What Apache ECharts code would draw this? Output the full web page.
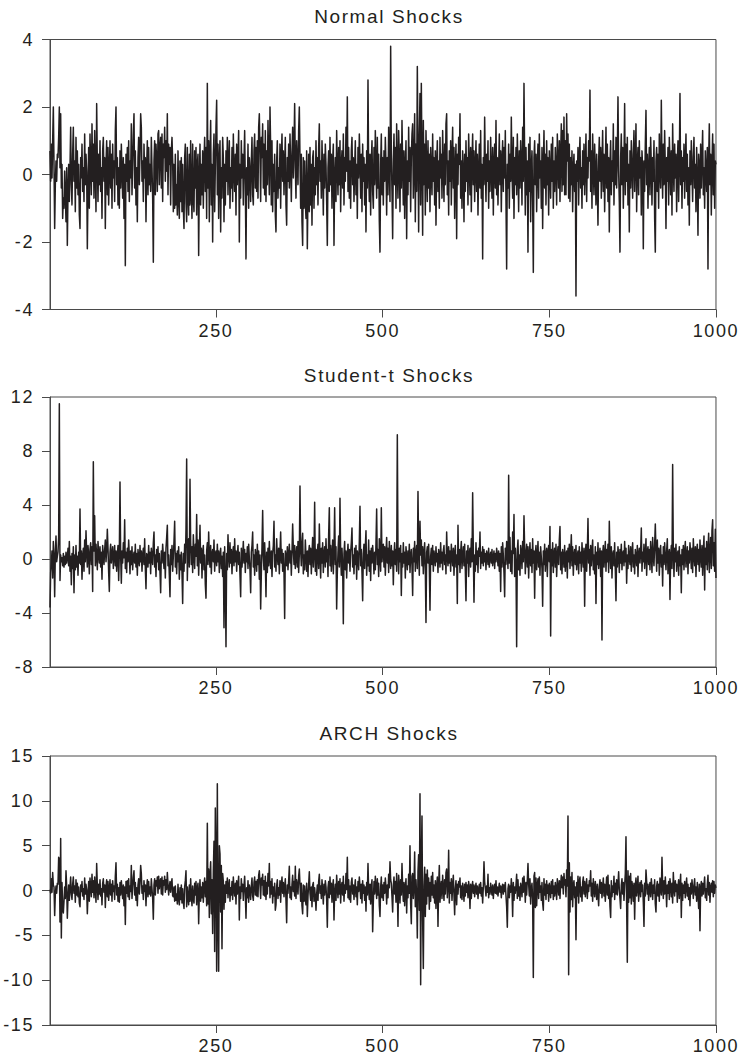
<!DOCTYPE html>
<html>
<head>
<meta charset="utf-8">
<title>Simulated Shocks</title>
<script src="https://cdn.jsdelivr.net/npm/echarts@6/dist/echarts.min.js"></script>
<style>
  html, body { margin: 0; padding: 0; background: #ffffff; }
  #chart { width: 739px; height: 1062px; }
  #chart text { letter-spacing: 1.6px; }
</style>
</head>
<body>
<div id="chart"></div>
<script>
// Simulated shock series, t = 1 .. 1000
const normalShocks = [
0.7,-0.2,0.9,-0.1,1.0,2.0,0.3,-1.6,-0.3,0.4,-0.2,0.6,0.5,1.1,2.0,0.2,1.8,-0.4,0.3,-1.3,-0.7,-1.0,0.1,-0.6,-1.4,0.2,-2.1,-0.5,0.3,-0.8,0.2,1.4,-0.3,-0.9,0.6,1.4,-0.2,0.4,-1.1,1.1,-0.4,0.7,-0.6,0.3,-1.2,-1.6,0.5,-0.1,0.9,-0.5,
0.2,-0.8,1.2,-0.3,0.6,0.1,-2.2,-0.4,0.8,-1.0,1.2,0.3,-0.6,1.5,-0.2,0.9,-0.7,1.3,0.1,-1.1,2.1,0.4,-0.8,0.6,-0.3,1.0,-0.5,0.2,-1.3,0.7,1.1,-0.2,0.5,-1.6,0.3,1.0,-0.6,0.8,-0.9,0.1,1.0,-0.4,0.6,-1.0,0.9,-0.1,0.4,-0.8,1.3,2.0,
-0.3,0.5,-0.9,0.2,-1.0,0.7,-0.4,0.9,0.1,-0.7,0.5,-1.3,0.3,-2.7,0.6,-0.2,0.8,-0.5,1.0,-0.8,0.4,-0.1,1.5,-0.6,0.3,1.2,1.8,-0.4,0.7,-0.9,0.2,-1.4,0.5,1.1,-0.3,0.6,1.8,1.4,-0.2,0.4,-0.8,0.9,-0.1,0.5,-1.4,0.2,1.0,-0.6,0.8,-0.3,
0.3,-0.5,1.1,0.2,-0.7,-2.6,0.4,1.0,-0.6,0.9,0.4,-0.5,1.2,1.3,-0.3,0.8,1.1,-0.4,1.2,-0.8,0.9,0.5,1.4,-0.2,1.0,0.1,1.8,-0.6,0.9,0.3,0.8,-0.9,0.7,1.1,0.4,-1.1,0.3,-1.0,0.6,-0.9,-0.3,-1.2,0.7,-0.7,-1.3,0.4,-0.8,0.5,-1.1,0.3,
-1.0,-1.6,0.5,0.9,-0.8,-1.4,0.8,-0.6,-1.2,0.6,-0.9,1.0,-0.5,-1.3,0.9,-0.7,-1.1,0.7,-0.4,0.8,-1.2,0.3,0.6,-2.4,-0.2,0.9,-0.9,0.3,-0.6,0.7,-1.0,0.4,1.1,-0.5,0.8,-1.3,2.7,-0.4,1.0,-1.4,0.5,1.6,-0.9,0.3,-2.0,0.6,1.2,-1.1,0.2,1.4,
2.2,-0.6,0.9,-1.3,0.4,1.0,-1.7,0.2,-0.7,1.1,0.5,-1.4,0.3,-0.9,0.7,-0.2,1.1,-0.6,0.4,1.0,-1.0,0.2,-0.4,0.8,-0.8,1.2,0.1,-0.5,0.6,-1.2,0.9,-0.3,0.5,1.3,-2.0,0.3,-0.7,1.0,-0.1,0.6,-0.9,0.4,1.3,-0.3,-2.5,0.2,-0.6,0.9,-1.0,0.5,
0.1,-0.8,0.4,1.1,-0.6,-0.9,0.7,1.2,-0.4,0.8,-0.5,1.0,-0.7,1.4,1.8,0.6,-0.8,1.1,0.5,1.5,-0.4,0.9,-0.6,1.3,-0.8,0.7,-0.3,1.6,0.4,-0.6,2.0,0.8,-0.9,1.0,-1.1,0.3,-0.5,0.6,-1.2,-1.7,0.4,1.0,-0.7,0.2,-0.4,0.9,-1.0,0.5,1.2,-0.2,
0.7,-0.6,0.3,1.1,-0.9,-1.5,0.5,-0.2,0.9,-0.4,1.2,0.3,-0.8,0.6,1.4,-0.1,0.8,2.1,0.2,-0.7,1.0,0.4,-0.3,1.3,2.0,0.5,-1.0,0.6,-1.4,-2.1,0.5,-1.0,0.4,-0.8,-1.3,0.7,-2.2,-0.5,0.6,-1.1,0.8,-0.9,0.3,-1.5,0.5,0.7,-1.0,0.2,-0.6,1.0,
-0.3,0.5,-0.9,0.8,1.5,-0.2,0.4,-0.7,1.0,0.1,-1.2,0.6,-0.4,0.9,0.3,-0.8,-2.1,0.2,0.7,-0.5,1.1,-0.3,0.6,-1.0,0.4,0.9,-2.1,-0.1,0.5,-0.8,1.3,0.2,-0.6,0.8,-0.3,1.0,-1.1,0.3,0.7,-0.4,1.2,-0.9,0.5,-0.2,1.4,0.1,2.3,-0.5,0.8,-0.7,
0.4,-1.0,0.7,1.1,-0.3,0.5,-0.8,0.2,1.0,-0.6,0.3,-1.3,0.8,-0.1,1.2,0.4,-0.7,0.6,-1.1,0.9,-0.2,0.5,-0.9,0.3,-1.7,0.7,-0.4,2.8,0.1,-0.8,0.6,-1.2,0.4,1.0,-0.5,-1.0,0.8,-0.3,1.3,0.2,-0.7,1.1,-0.4,0.6,-1.4,-2.3,0.3,1.2,-0.6,0.5,
-0.9,0.7,-0.2,1.1,0.3,-1.2,0.5,-0.6,1.4,0.2,-0.8,3.8,0.6,-0.5,-1.9,0.4,1.2,-0.3,0.8,-1.0,1.5,0.1,-0.7,1.3,0.5,-1.1,0.9,-0.4,1.6,0.3,-0.9,0.7,-1.3,0.2,1.0,-1.9,0.4,-0.6,1.4,-0.2,0.8,-1.1,0.5,1.2,1.5,-0.7,0.3,1.8,-1.4,0.9,
-0.5,3.2,0.7,-1.7,1.1,2.4,-0.9,2.7,0.4,-1.8,1.6,-0.3,0.9,-1.2,1.3,0.2,-0.8,1.0,-0.4,0.6,-1.1,0.8,0.1,-0.6,1.2,-0.2,0.5,-0.9,0.7,-1.5,0.3,1.0,-0.5,0.4,-1.0,1.1,-0.1,0.6,-0.7,1.3,0.2,-0.8,0.9,-0.3,1.5,1.8,-0.6,0.4,-1.2,0.7,
-0.2,1.0,-0.9,0.5,1.4,-0.4,0.8,-1.3,0.2,0.9,-1.9,0.6,-0.3,1.1,0.3,1.8,-0.7,0.4,-1.0,0.7,0.1,-1.4,0.6,-0.5,1.0,-0.2,0.5,-0.9,1.2,0.3,-0.6,0.8,-1.1,0.4,1.2,-0.3,0.7,-0.8,0.2,1.0,-0.5,0.6,-1.2,0.1,0.9,-0.4,1.3,-0.7,0.3,-2.5,
0.5,-0.3,1.7,0.2,-0.8,0.6,-0.2,1.0,-1.0,0.4,-0.5,1.1,0.1,-0.7,0.8,-1.2,0.3,0.9,-0.4,1.6,-0.6,0.5,-0.9,0.2,1.2,-0.3,0.7,-1.1,0.4,1.0,-0.5,0.8,-0.1,1.3,-0.8,-2.8,0.3,-0.4,0.9,-1.0,0.6,-0.2,1.7,0.1,-0.7,1.1,-1.3,0.5,-0.3,0.8,
-0.6,1.2,0.2,-1.1,0.7,-0.4,1.0,0.3,-0.9,1.4,-0.2,2.7,0.5,-1.2,0.8,-0.6,0.4,-2.3,0.9,-0.5,1.1,-1.4,0.2,0.7,-0.8,-2.9,0.5,1.0,-0.3,0.6,-1.1,0.3,0.9,-0.7,1.2,-0.1,0.4,-1.0,0.8,-1.6,0.2,1.3,-0.4,0.6,-0.9,1.0,-0.3,0.5,-1.2,0.7,
0.1,-0.7,0.9,-0.2,1.1,-1.0,0.4,-0.5,0.8,0.2,-0.9,1.2,0.3,-0.4,1.0,-0.8,0.6,1.5,-0.5,1.3,-0.3,1.7,-0.6,1.0,-0.6,1.8,0.4,1.2,-0.7,0.9,-0.8,0.5,-0.3,0.7,-1.1,0.2,0.6,-0.5,0.3,-3.6,0.4,-0.2,0.8,-0.9,0.5,1.1,-0.4,0.2,-1.0,0.7,
-0.3,0.9,-0.6,0.3,1.2,-0.8,0.5,-0.1,1.0,0.4,2.5,-0.5,0.7,-1.0,1.2,0.2,-0.6,0.9,0.1,-0.9,0.6,-0.3,-1.5,0.4,1.1,-0.2,0.8,-0.7,0.3,1.3,-0.5,0.6,-1.1,0.2,1.4,-0.4,0.9,-0.8,0.5,-1.7,0.3,1.0,-0.6,0.4,-0.2,1.5,-0.9,0.7,-0.3,1.1,
-0.4,0.6,2.3,0.1,-0.8,-2.3,0.5,1.2,-0.3,0.8,-1.0,0.4,2.1,-0.6,0.9,-0.2,1.1,-0.9,0.3,-1.7,0.7,-0.4,1.0,0.2,-0.7,0.6,1.3,-0.5,0.4,1.5,-1.1,0.3,0.8,-0.6,1.0,-0.1,0.5,-1.2,0.7,0.2,-2.2,0.4,-0.5,0.9,1.9,-0.3,0.6,-1.0,0.2,0.8,
-0.6,1.1,0.3,-0.9,0.5,-0.2,1.0,-1.3,-2.3,0.4,0.8,-0.5,0.6,-1.0,1.2,0.1,-0.4,2.2,0.3,-0.7,0.9,-0.3,1.3,0.2,-1.6,0.5,-0.2,0.8,-0.9,1.1,0.4,-0.6,0.7,-1.2,1.5,0.2,-0.5,0.9,-0.1,0.6,-1.1,0.3,1.0,-0.8,0.4,2.4,-0.3,0.7,-1.0,0.5,
-0.2,0.9,-0.7,0.4,1.2,-0.5,0.6,-0.9,0.2,-1.5,0.7,-0.3,1.0,0.1,-0.8,0.5,1.1,-0.4,0.3,-1.1,0.8,-0.2,-1.8,0.6,0.2,-0.7,0.9,-0.4,0.5,1.3,-0.6,0.2,-1.0,0.7,0.1,-0.5,0.8,-2.8,0.4,1.5,-0.3,0.6,-1.2,0.3,1.2,-0.6,0.9,-1.0,0.4,0.3
];

const studentTShocks = [
-3.6,-1.0,-0.3,0.6,-1.4,1.3,0.2,-2.8,0.4,1.7,-0.2,0.2,0.5,1.6,11.5,-1.6,0.3,-0.2,0.1,-0.5,0.4,-0.6,0.2,-0.4,0.5,-0.3,0.1,0.8,-0.5,1.3,-0.9,0.2,-1.9,0.4,-0.7,0.9,-2.5,0.3,-0.8,1.0,-0.6,0.2,-1.2,0.5,-0.3,3.7,-0.4,0.6,-1.5,0.2,
0.8,-0.9,1.4,-0.2,2.1,0.5,-0.6,1.0,0.3,-1.1,0.7,1.2,-0.4,0.9,-2.4,7.2,0.6,3.2,-0.5,1.1,0.2,-0.8,1.3,0.4,-0.3,0.9,-0.6,0.5,-1.5,1.0,0.3,-0.4,0.7,1.4,-0.2,0.6,2.2,0.8,-1.0,-2.4,0.5,1.1,-0.3,0.4,0.9,-0.7,0.2,1.0,-0.5,0.6,
-0.9,0.3,1.0,-1.6,0.4,5.7,0.2,-1.8,0.6,-0.3,1.2,0.1,2.9,-0.7,0.5,-1.0,0.8,-0.2,1.4,0.3,-1.1,0.6,-0.4,0.9,-0.8,0.2,0.5,-0.3,1.1,-0.6,0.4,-1.2,0.7,0.1,-0.5,1.0,-0.2,0.6,-0.9,0.3,0.8,-0.4,1.5,-0.7,-2.2,0.4,0.2,-0.6,1.0,-0.3,
0.5,-1.1,0.8,0.1,-0.4,1.2,2.0,-0.6,0.3,-1.3,0.7,-0.2,0.9,-0.8,0.4,-1.0,-2.5,0.6,-0.3,1.1,0.2,-0.7,0.5,-1.4,0.8,1.6,2.5,-0.5,0.3,-1.2,-2.8,0.7,-0.4,1.0,-0.9,0.2,1.3,2.8,-0.6,0.4,-1.1,0.6,-0.2,0.9,-1.5,0.3,-0.8,0.5,-1.0,-3.3,
0.4,-0.9,1.1,-0.3,2.2,7.4,-1.6,0.8,1.5,-0.6,5.9,1.2,-0.4,0.9,-1.0,1.8,0.3,-0.7,1.1,0.2,3.3,-0.5,1.4,-1.2,0.6,2.5,-0.3,0.8,-1.4,0.5,1.0,-0.8,0.3,-1.9,-2.9,0.6,1.2,-0.4,2.0,0.2,-0.6,1.0,-1.1,0.4,0.7,-0.2,1.4,-0.9,0.3,0.6,
-0.5,1.1,-0.2,0.6,-1.0,0.3,0.8,-0.7,0.2,-1.3,0.5,-5.1,0.9,-1.4,-6.5,0.4,-0.8,1.8,0.2,-0.6,1.2,-0.3,0.7,-1.1,0.4,0.9,-0.5,1.5,-0.2,0.6,-0.9,0.3,1.0,-0.4,0.5,-1.2,-2.8,0.8,-0.6,0.2,1.3,-0.3,0.7,-1.0,0.4,-0.2,0.9,-0.7,1.1,0.1,
-0.8,-2.5,0.5,1.0,2.0,-0.6,0.3,-1.2,0.7,0.2,-0.9,1.1,-0.4,0.6,-1.5,0.3,-3.7,-1.1,0.9,3.6,0.2,-0.8,1.2,-0.3,-2.8,0.5,-1.0,0.8,-0.5,1.3,0.1,-0.7,0.6,-1.3,0.4,1.0,2.8,-0.6,0.3,-0.9,1.5,0.2,-0.4,0.8,-1.1,0.5,2.0,-0.3,0.7,-0.9,
0.4,-1.0,-4.4,0.6,0.2,-0.5,0.9,-0.8,0.3,1.1,-0.3,0.6,-1.2,0.5,2.6,0.8,-0.4,1.0,-0.7,0.2,0.9,-0.6,1.3,-1.0,0.4,5.4,0.7,-0.5,1.2,1.9,-1.1,0.3,-0.8,1.4,0.2,-0.9,0.6,-1.3,0.5,1.0,-0.4,0.8,-1.1,0.3,1.6,-0.6,0.4,4.2,-0.9,0.7,
-1.2,0.5,1.1,-0.7,2.6,0.2,-1.4,0.8,-0.3,1.2,-1.0,0.4,0.9,-0.6,1.5,-0.2,0.7,-1.3,1.8,3.8,-0.5,1.0,-0.9,0.3,1.4,-1.1,0.6,3.8,-0.4,0.9,-3.7,-1.0,0.5,1.7,-0.6,4.5,0.3,-1.2,0.8,-0.5,-4.8,0.4,1.3,-0.8,0.6,-1.4,0.2,1.1,-0.3,0.7,
-0.9,0.5,1.2,2.3,-0.6,0.3,-1.1,0.8,-0.4,1.0,-1.5,0.6,0.2,-0.8,1.3,3.9,-0.5,0.7,-1.0,-3.1,0.4,1.1,-0.7,0.9,2.1,-1.2,0.3,-0.5,1.4,-0.9,0.6,-1.6,0.8,-0.3,1.0,0.2,-1.1,0.5,-0.8,1.2,3.7,-0.4,0.7,-1.3,1.5,0.3,-0.9,3.8,-0.2,0.6,
1.1,-0.6,0.9,-1.2,0.4,1.6,-0.3,0.8,-1.0,1.3,0.2,-0.7,1.0,-0.5,0.6,-1.9,0.3,1.2,-0.4,0.7,-0.9,9.2,0.5,-1.1,0.8,-0.2,1.0,-2.7,0.4,-0.6,1.2,-0.3,0.5,-1.4,0.9,0.2,-0.8,0.6,-0.4,1.1,-1.0,0.3,0.7,-0.5,-2.7,0.8,-0.2,1.3,-0.9,0.4,
1.0,-0.7,5.0,0.6,-1.2,2.8,0.3,1.4,-0.5,0.9,-1.1,0.4,1.2,-0.8,-4.7,0.5,0.9,-0.3,1.1,-0.6,-3.8,0.2,0.8,-0.4,1.0,-0.9,0.6,0.1,-0.5,0.9,-0.2,0.4,-1.0,0.7,0.3,-0.6,1.2,-0.3,0.5,-0.8,0.6,1.0,-0.4,0.3,-1.1,2.0,0.2,-0.5,0.9,-0.3,
0.6,-0.9,1.1,0.2,-0.5,0.8,-1.2,0.4,1.0,-0.6,0.3,-3.3,2.5,-0.4,0.7,-1.0,0.5,1.3,-0.7,0.2,0.9,-0.5,1.1,-0.8,-3.1,0.6,-0.3,1.0,-1.3,0.4,0.8,-0.6,1.5,-0.2,4.9,0.7,-3.2,0.3,-0.9,1.2,-0.4,0.6,-1.0,0.8,0.2,2.0,-0.7,0.5,-0.3,0.9,
-0.5,0.7,-0.2,0.4,-0.8,0.6,0.3,-0.4,0.8,-0.6,0.2,0.5,-0.3,0.7,-0.5,0.1,0.6,-0.7,0.4,-0.2,0.8,0.3,-0.5,0.6,-0.9,0.4,-2.4,0.9,-0.6,1.2,0.3,-1.0,-2.8,0.8,-0.4,1.3,0.5,-0.7,6.2,-0.3,1.6,-0.9,0.6,-1.1,2.0,0.4,3.3,-1.3,0.8,-0.5,
-6.5,0.6,1.4,-0.8,0.3,-1.2,1.0,0.5,-0.7,1.3,-0.2,3.2,0.8,-1.1,0.4,1.1,-0.6,0.9,-1.4,0.3,1.2,-0.5,0.7,-1.0,1.5,-0.3,0.6,-2.9,0.4,1.0,-0.8,0.2,1.3,-0.6,0.5,-1.2,0.9,0.1,-0.7,-3.5,0.6,-0.4,1.1,-0.9,0.3,0.8,-1.3,0.5,1.0,-0.2,
2.4,-5.7,0.7,-0.5,1.2,-1.0,0.4,0.8,-0.6,1.1,-1.3,0.3,0.9,-0.4,1.4,2.4,-0.8,0.5,-1.1,0.7,0.2,-0.6,1.0,-0.9,0.3,0.6,-1.4,0.8,-0.2,1.1,-0.7,0.4,1.8,-0.5,0.9,-1.2,0.3,0.7,-0.4,1.0,-0.8,0.2,0.6,-1.1,0.9,-0.3,0.5,-0.9,1.2,0.1,
-0.6,0.8,-3.5,0.4,1.1,-0.9,0.5,3.0,-0.3,0.7,-1.2,1.0,-0.5,0.6,1.4,-0.8,0.3,-1.1,0.9,-3.3,0.5,-0.4,1.2,-0.7,0.2,0.8,-1.3,0.6,-6.0,0.4,1.0,-0.6,0.3,1.3,-0.9,0.7,-0.2,1.1,-1.0,2.8,0.5,-0.7,0.9,-1.4,0.3,0.6,-0.5,1.2,-0.8,-3.1,
0.5,-0.6,0.9,0.2,-1.0,0.7,-0.3,1.1,-0.8,0.4,0.6,-0.5,1.3,-0.2,0.8,-1.8,0.3,-0.7,1.0,0.1,-0.4,0.9,-0.9,0.5,1.2,-0.6,0.3,-1.1,0.7,0.2,-0.5,1.0,-1.3,0.4,0.8,-0.3,0.6,2.3,-0.9,0.5,-0.2,1.1,-0.7,0.3,1.5,-1.2,0.6,0.9,-0.4,0.7,
-0.8,1.3,0.4,-1.0,1.6,0.2,-0.5,1.1,2.6,0.6,-0.9,1.4,-0.3,0.8,-1.2,0.5,1.0,-0.6,0.3,-2.0,0.9,-0.4,1.2,0.1,-0.8,0.6,1.5,-1.1,0.4,0.7,-3.0,0.2,1.0,-0.7,7.0,0.5,-1.3,0.8,-0.2,1.1,-0.9,0.4,0.6,-1.2,0.9,-0.5,0.3,-2.5,0.7,-0.4,
1.0,-0.8,0.5,1.3,-0.6,0.2,0.9,-1.1,0.6,-0.3,1.2,0.4,-0.7,0.8,-1.0,1.5,0.3,-0.5,0.9,-1.3,0.6,1.1,-0.4,0.7,-0.9,1.4,0.2,-0.6,1.0,-1.2,0.5,1.7,-2.3,0.8,-0.4,1.3,-0.8,0.6,1.9,-1.0,0.4,1.6,-0.7,2.1,2.9,-0.5,1.2,-0.9,2.2,-1.4
];

const archShocks = [
0.1,-0.3,1.3,-0.2,2.0,0.6,0.4,-2.8,-0.4,0.5,-0.3,0.8,0.7,3.7,3.5,-3.5,5.8,-5.3,0.9,-1.8,-2.5,-1.2,0.4,-0.9,2.2,0.5,-3.1,-0.8,0.6,-1.1,0.3,1.5,-0.4,-1.0,0.7,1.5,-0.3,0.5,-1.3,1.2,-0.5,0.8,-0.7,0.4,-1.4,-1.8,0.6,-0.1,1.0,-0.6,
0.2,-1.0,1.4,-0.4,0.7,0.1,-2.6,-0.5,1.0,-1.2,1.4,0.4,-0.7,1.8,-0.2,1.1,-0.8,1.5,0.1,-1.3,3.0,0.6,-1.0,0.7,-0.4,1.2,-0.6,0.2,-1.6,0.8,1.3,-0.2,0.6,-1.9,0.4,1.2,-0.7,1.0,-1.1,0.1,1.2,-0.5,0.7,-1.2,1.1,-0.1,0.5,-1.0,1.6,3.1,
-0.5,0.7,-1.2,0.3,-1.3,0.9,-0.5,1.1,0.1,-0.9,0.6,-1.7,0.4,-3.8,1.0,-0.3,1.1,-0.7,1.3,-1.0,0.5,-0.1,2.8,-0.9,0.4,1.5,2.2,-0.5,0.9,-1.1,0.3,-1.7,0.6,1.3,-0.4,0.8,2.8,1.9,-0.3,0.5,-1.0,1.1,-0.1,0.6,-1.7,0.3,1.2,-0.7,1.0,-0.4,
0.4,-0.6,1.3,0.2,-0.9,-3.2,0.6,1.3,-0.5,1.1,0.5,1.5,-0.3,1.6,0.2,1.0,1.3,-0.4,1.5,-0.5,1.1,0.6,1.6,-0.2,1.2,0.1,2.0,0.7,-0.5,0.4,1.0,-0.2,0.8,1.3,-0.6,-0.7,0.4,-1.2,0.5,-1.1,-0.4,-1.5,0.7,-0.9,-1.6,0.3,-1.0,0.6,-1.4,0.2,
-1.3,-2.0,0.4,1.1,2.2,-1.8,0.4,-0.8,-1.6,0.6,-1.2,1.3,-0.7,-1.7,0.5,-0.9,-1.4,0.8,-0.5,1.0,-1.6,0.3,0.8,-3.7,-0.3,1.2,-1.2,0.4,-0.8,0.9,-1.3,0.5,1.4,-0.7,1.0,-1.7,7.5,-1.5,2.4,-3.0,1.6,3.2,-2.6,1.2,-4.8,2.1,5.5,-6.8,9.2,3.5,
-9.0,11.9,-3.0,-9.0,5.0,4.1,-2.4,2.8,-6.5,1.9,1.0,-2.1,0.6,-1.3,1.0,-0.3,1.4,-0.8,0.5,1.2,-1.2,0.3,-0.5,1.0,-1.0,1.5,0.1,-0.6,0.8,-1.5,1.1,-0.4,0.6,1.6,-3.3,0.4,-0.9,1.3,-0.1,0.7,-1.1,0.5,1.6,-0.4,-3.1,0.3,-0.8,1.1,-1.3,0.6,
0.1,-1.0,0.5,1.4,-0.6,-1.1,0.9,1.5,-0.5,1.0,-0.6,1.2,-0.7,1.7,2.2,0.7,-0.9,1.4,0.6,1.8,-0.5,1.1,-0.6,1.6,-1.0,0.9,-0.4,1.9,0.5,3.0,-0.8,1.0,-0.4,1.3,-1.4,0.4,-0.6,0.8,-2.2,-1.6,0.5,1.2,-0.9,0.3,-0.5,1.1,-1.3,0.6,1.5,-0.3,
0.9,-0.7,0.4,1.3,-1.1,-3.6,0.6,-0.3,1.1,2.7,-0.8,0.4,-1.0,0.7,1.7,-0.1,1.0,-0.6,2.7,-0.9,1.2,0.5,-0.4,1.6,2.4,0.6,-1.2,0.8,-1.7,-2.6,0.6,-1.2,0.5,-1.0,-1.6,0.8,-2.9,-0.6,0.7,2.1,-0.3,-1.1,0.4,-1.8,0.6,0.9,-1.2,0.3,-0.7,-2.2,
-0.4,0.6,-1.1,1.0,1.8,-0.3,0.5,-0.9,1.2,0.1,-1.5,0.7,-0.5,1.1,0.4,-1.0,-4.1,0.3,1.0,-0.8,1.5,-0.4,0.8,-1.3,0.5,1.2,-3.3,-0.2,0.7,-1.1,1.7,0.3,-0.8,1.0,-0.4,1.3,-1.4,0.4,0.9,-0.5,1.6,-1.2,0.6,-0.3,1.9,0.1,3.7,-0.8,1.2,-1.0,
0.5,-1.3,0.9,1.4,-0.4,0.6,-1.0,0.3,1.2,-0.7,0.4,-1.6,1.0,-0.1,1.5,0.5,-0.9,0.7,-1.4,1.1,-0.3,0.6,-1.1,0.4,-2.3,0.9,-0.5,3.0,0.1,-1.0,0.7,-1.5,0.5,1.2,-4.6,-1.3,1.0,-0.4,1.6,0.3,-0.9,1.3,-0.5,0.8,-1.7,-2.9,0.4,1.5,-0.8,0.6,
-1.1,0.9,-0.3,1.4,0.4,-1.5,0.6,-0.8,1.8,0.3,3.2,1.2,0.8,-0.7,-2.4,0.5,1.5,-0.4,1.0,-1.3,1.9,0.1,-4.0,1.7,0.6,-1.4,1.2,-0.5,3.0,0.4,-1.2,0.9,-1.7,0.3,1.3,-2.5,0.5,-0.8,1.8,-0.3,5.0,-1.5,-3.7,1.6,1.9,-0.9,0.4,4.3,-1.8,1.2,
-0.7,-5.3,2.1,4.0,-2.2,10.8,-10.5,3.0,8.3,-3.4,-8.7,0.5,2.6,-2.9,1.8,-1.5,2.3,-0.6,1.4,-2.1,0.9,-1.2,1.6,-0.5,2.0,-0.8,0.6,-1.4,1.1,-2.0,0.4,1.5,-4.0,0.6,2.8,-1.3,0.2,1.0,-0.9,1.7,0.3,-1.1,1.2,-0.4,2.0,2.4,-0.8,0.5,4.5,-1.4,
0.9,-0.3,1.3,-1.1,0.6,1.7,-0.5,-2.7,0.2,1.1,-1.6,0.7,-0.4,1.0,0.4,1.4,-0.8,0.5,-1.0,0.8,0.1,-1.2,0.7,-0.6,0.9,-0.2,0.6,-0.8,1.0,0.3,-2.0,0.7,-0.9,0.4,1.0,-0.3,0.6,-0.7,0.2,0.8,-0.4,0.5,-0.9,0.1,0.7,-0.3,0.9,-0.6,0.3,-1.4,
0.4,3.2,1.0,0.2,-0.6,0.5,-0.2,1.8,-0.8,0.3,-0.4,0.8,0.1,-0.5,0.6,-0.9,0.2,0.7,-0.3,1.1,-0.4,0.4,-0.6,0.2,0.8,-0.2,0.5,-0.8,0.3,0.7,-0.4,0.6,-0.1,0.9,-0.6,-1.8,-4.1,0.2,0.7,-0.8,0.5,-0.2,1.3,0.1,-2.9,0.9,-1.1,0.4,-0.3,0.6,
1.8,-0.9,1.2,-0.6,0.4,-1.1,0.8,0.3,-0.7,1.4,-0.2,1.6,0.5,-1.3,0.9,-0.5,1.2,3.0,0.7,-0.6,1.3,-1.5,0.2,0.8,-1.0,-9.7,1.6,2.0,-1.9,1.4,-1.7,0.6,1.3,-0.9,1.5,-0.2,0.5,-1.1,0.9,-1.4,-2.2,1.3,-0.5,0.7,-1.0,1.1,-0.3,0.6,-1.2,0.8,
0.2,-0.8,1.0,-0.3,1.2,-1.0,0.5,-0.6,0.9,0.2,-1.0,1.3,0.4,-0.5,1.1,-0.9,0.7,1.7,0.3,1.5,-0.4,1.9,0.6,1.2,-0.7,2.3,0.5,8.3,-9.4,3.1,-2.4,1.5,-1.0,2.0,-1.8,0.6,1.1,-0.8,0.4,-5.5,0.9,-0.6,1.6,-1.4,1.0,1.5,-0.7,0.4,-1.2,0.9,
1.5,-0.4,1.0,-0.7,0.4,1.3,-0.9,0.6,-0.1,1.1,0.5,2.2,-0.6,0.8,-1.2,1.3,0.2,-0.7,1.0,0.1,-1.0,0.7,-0.4,-1.7,0.5,1.2,-0.3,0.9,-0.8,0.4,1.4,-0.6,0.7,-1.2,0.3,1.5,-0.5,1.7,-0.9,0.6,-1.8,-3.0,1.1,-0.7,0.5,-0.2,1.6,-1.0,0.8,-0.4,
1.2,-0.5,0.7,2.1,0.1,-0.9,-2.0,0.6,1.3,-0.4,0.9,-1.1,0.5,1.9,6.0,-1.6,-8.0,2.2,-1.3,1.6,-0.8,1.9,-1.5,1.0,0.3,-1.2,0.8,-3.2,0.5,1.4,-0.6,0.4,1.6,-1.2,0.3,0.9,-0.7,1.1,-0.1,0.6,-1.3,-4.0,0.8,-0.6,2.3,1.0,-0.4,0.7,-1.1,0.2,
0.9,-0.7,1.3,0.4,-1.0,0.6,-0.3,1.2,-1.5,-2.4,0.5,1.0,-0.6,0.7,-1.2,1.4,0.1,-0.5,3.7,0.4,-0.9,1.1,-0.4,1.5,0.2,-1.8,0.6,-0.3,1.0,-1.0,1.3,0.5,-0.7,0.8,-1.4,2.0,0.2,-0.6,1.1,-0.1,0.7,-1.3,0.4,1.2,-0.9,0.5,1.8,-3.0,0.8,-1.1,
0.6,-0.3,1.0,-0.8,0.5,1.4,-0.6,0.7,-1.0,0.3,-1.7,0.8,-0.4,1.2,0.2,-0.9,0.6,1.3,-0.5,0.4,-1.2,0.9,-0.3,-2.0,0.7,-4.5,0.3,1.0,-0.6,0.8,-0.4,0.6,1.5,-0.8,0.2,-1.1,0.7,1.7,-0.5,0.9,-1.3,0.4,0.8,-0.2,1.1,-0.7,1.0,-0.3,0.6,0.3
];

const panelTitles = ['Normal Shocks', 'Student-t Shocks', 'ARCH Shocks'];
const xTickValues = [250, 500, 750, 1000];
const yTickValues = [
  [-4, -2, 0, 2, 4],
  [-8, -4, 0, 4, 8, 12],
  [-15, -10, -5, 0, 5, 10, 15]
];
const seriesValues = [normalShocks, studentTShocks, archShocks];

// Layout of the three stacked panels
const plotLeft = 50, plotWidth = 666;
const plotTops = [39.5, 397, 756];
const plotHeights = [270, 270, 269];
const titleCenterX = 389;
const titleCenterY = [16.7, 375, 733.5];

const ink = '#231f20';
const frame = '#4a4a4a';
const fontFamily = '"Liberation Sans", Arial, Helvetica, sans-serif';

const chart = echarts.init(document.getElementById('chart'), null, { renderer: 'svg' });

const option = {
  animation: false,
  backgroundColor: '#ffffff',
  grid: seriesValues.map((_, i) => ({
    left: plotLeft,
    top: plotTops[i],
    width: plotWidth,
    height: plotHeights[i],
    show: true,
    borderColor: frame,
    borderWidth: 1,
    backgroundColor: 'transparent',
    containLabel: false
  })),
  xAxis: seriesValues.map((_, i) => ({
    type: 'value',
    gridIndex: i,
    min: 1,
    max: 1000,
    axisLine: { show: true, onZero: false, lineStyle: { color: frame, width: 1 } },
    axisTick: { show: true, inside: false, length: 8, customValues: xTickValues, lineStyle: { color: frame, width: 1 } },
    axisLabel: {
      show: true, customValues: xTickValues, margin: 12, color: ink, fontSize: 18, fontFamily: fontFamily,
      formatter: (v) => String(v)
    },
    splitLine: { show: false }
  })),
  yAxis: yTickValues.map((ticks, i) => ({
    type: 'value',
    gridIndex: i,
    min: ticks[0],
    max: ticks[ticks.length - 1],
    interval: ticks[1] - ticks[0],
    axisLine: { show: true, onZero: false, lineStyle: { color: frame, width: 1 } },
    axisTick: { show: true, inside: false, length: 8, lineStyle: { color: frame, width: 1 } },
    axisLabel: { show: true, margin: 16, color: ink, fontSize: 18, fontFamily: fontFamily, formatter: (v) => String(v) },
    splitLine: { show: false }
  })),
  series: seriesValues.map((values, i) => ({
    type: 'line',
    name: panelTitles[i],
    xAxisIndex: i,
    yAxisIndex: i,
    data: values.map((v, k) => [k + 1, v]),
    symbol: 'none',
    showSymbol: false,
    smooth: false,
    clip: true,
    lineStyle: { color: ink, width: 1.5, join: 'round' },
    emphasis: { disabled: true }
  })),
  graphic: panelTitles.map((t, i) => ({
    type: 'text',
    x: titleCenterX,
    y: titleCenterY[i],
    silent: true,
    style: {
      text: t,
      fill: ink,
      font: '19px ' + fontFamily,
      textAlign: 'center',
      textVerticalAlign: 'middle',
      verticalAlign: 'middle'
    }
  }))
};

chart.setOption(option);
</script>
</body>
</html>
